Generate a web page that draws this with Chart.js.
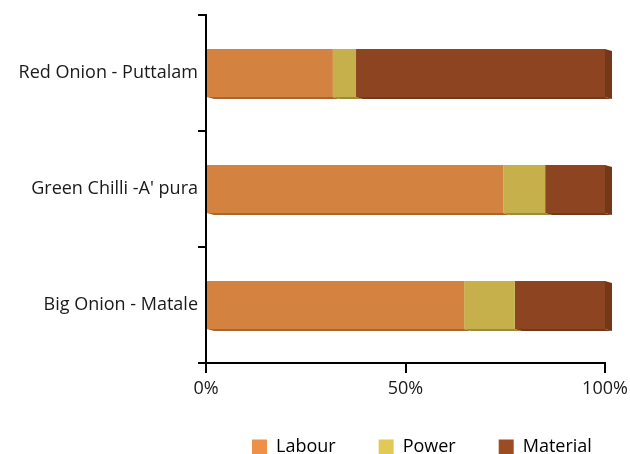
<!DOCTYPE html>
<html>
<head>
<meta charset="utf-8">
<script src="https://cdn.jsdelivr.net/npm/chart.js@4.4.0/dist/chart.umd.min.js"></script>
<style>
  body { margin: 0; background: #fff; }
</style>
</head>
<body>
<canvas id="costChart" width="630" height="454"></canvas>
<script>
// ===================== data =====================
const categories = ['Red Onion - Puttalam', 'Green Chilli -A\' pura', 'Big Onion - Matale'];
const labour   = [31.8, 74.5, 64.7];
const power    = [5.8, 10.5, 12.7];
const material = [62.4, 15.0, 22.6];
const xTicks   = [0, 50, 100];

// bar face colours, legend colours (lighter, like the original), side colours
const barColors    = ['#d3823f', '#c6b04c', '#8c4520'];
const legendColors = ['#ee9048', '#e2c855', '#9b4c22'];
const sideColors   = ['#a8652f', '#9c8a3a', '#733817'];

// ===================== fake 3D depth ============================
const depth = { dx: 7, dy: 2 };
const bar3d = {
  id: 'bar3d',
  beforeDatasetsDraw(chart) {
    const ctx = chart.ctx;
    const n = chart.data.datasets.length;
    ctx.save();
    chart.data.datasets.forEach((ds, i) => {
      const meta = chart.getDatasetMeta(i);
      meta.data.forEach(bar => {
        const top = bar.y - bar.height / 2;
        const bottom = bar.y + bar.height / 2;
        // bottom strip
        ctx.fillStyle = sideColors[i];
        ctx.beginPath();
        ctx.moveTo(bar.base, bottom);
        ctx.lineTo(bar.x, bottom);
        ctx.lineTo(bar.x + depth.dx, bottom + depth.dy);
        ctx.lineTo(bar.base + depth.dx, bottom + depth.dy);
        ctx.closePath();
        ctx.fill();
        // right side only on the last segment
        if (i == n - 1) {
          ctx.beginPath();
          ctx.moveTo(bar.x, top);
          ctx.lineTo(bar.x + depth.dx, top + depth.dy);
          ctx.lineTo(bar.x + depth.dx, bottom + depth.dy);
          ctx.lineTo(bar.x, bottom);
          ctx.closePath();
          ctx.fill();
        }
      });
    });
    ctx.restore();
  }
};

// legend: keep its height small and start it a bit right of the y axis
const legendFix = {
  id: 'legendFix',
  afterInit(chart) {
    const lg = chart.legend;
    const origFit = lg.fit;
    lg.fit = function() {
      origFit.call(this);
      this.height = 59;
    };
  },
  afterLayout(chart) {
    chart.legend.left = chart.chartArea.left + 3;
    chart.legend.right = chart.width + 60;
  }
};

Chart.defaults.font.family = '"Open Sans", sans-serif';
Chart.defaults.color = '#1a1a1a';

var ctx = document.getElementById('costChart').getContext('2d');

const chart = new Chart(ctx, {
  type: 'bar',
  data: {
    labels: categories,
    datasets: [
      { label: 'Labour',   data: labour,   backgroundColor: barColors[0] },
      { label: 'Power',    data: power,    backgroundColor: barColors[1] },
      { label: 'Material', data: material, backgroundColor: barColors[2] }
    ]
  },
  options: {
    responsive: false,
    animation: false,
    indexAxis: 'y',
    barPercentage: 0.414,
    categoryPercentage: 1,
    layout: { padding: { top: 15, right: 0, left: 0, bottom: 0 } },
    plugins: {
      tooltip: { enabled: false },
      legend: {
        position: 'bottom',
        align: 'start',
        labels: {
          padding: 43,
          boxWidth: 15,
          boxHeight: 15,
          font: { size: 18 },
          generateLabels: (chart) => chart.data.datasets.map((ds, i) => ({
            text: ds.label,
            fillStyle: legendColors[i],
            strokeStyle: legendColors[i],
            lineWidth: 0,
            datasetIndex: i
          }))
        }
      }
    },
    scales: {
      x: {
        stacked: true,
        min: 0,
        max: 100,
        afterBuildTicks: (s) => { s.ticks = xTicks.map(v => ({ value: v })); },
        afterFit: (s) => { s.height = 32; s.paddingRight = 25; },
        ticks: {
          font: { size: 18 },
          padding: 5,
          maxRotation: 0,
          callback: (v) => v + '%'
        },
        grid: { drawOnChartArea: false, tickLength: 10, color: '#000', lineWidth: 2 },
        border: { color: '#000', width: 2 }
      },
      y: {
        stacked: true,
        afterFit: (s) => { s.width = 206; },
        ticks: { font: { size: 18 }, padding: 0 },
        grid: { drawOnChartArea: false, tickLength: 8, color: '#000', lineWidth: 2, offset: true },
        border: { color: '#000', width: 2 }
      }
    }
  },
  plugins: [bar3d, legendFix]
});
</script>
</body>
</html>
